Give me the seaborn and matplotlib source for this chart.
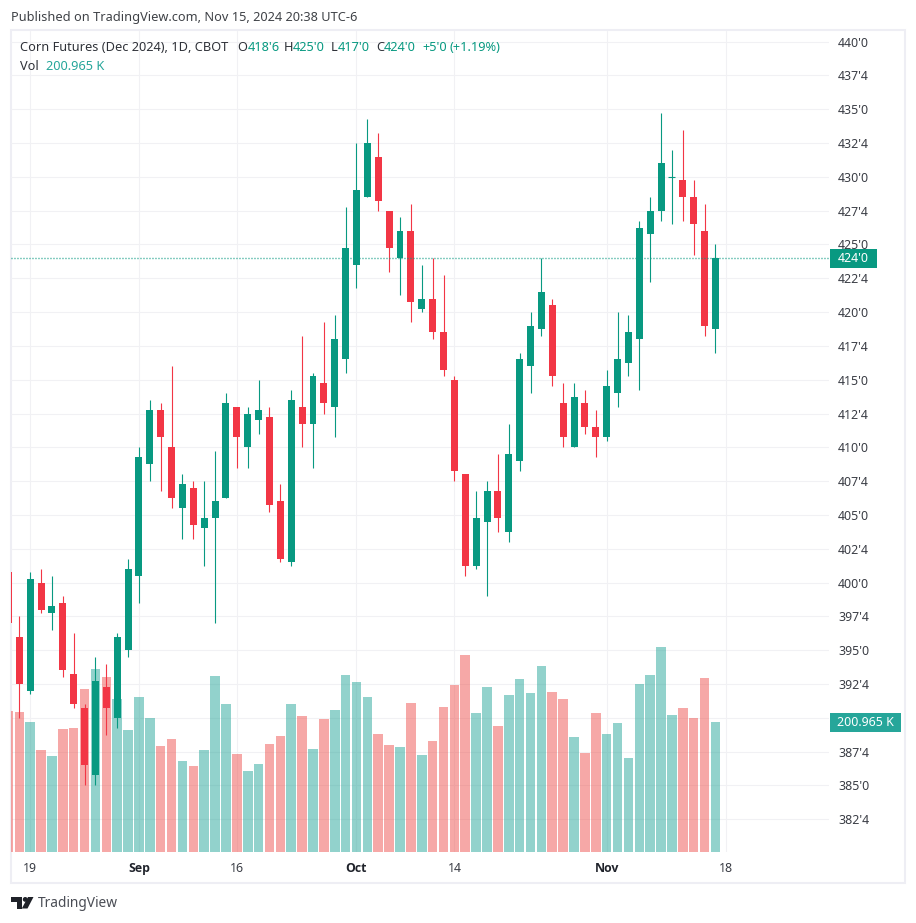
import matplotlib
matplotlib.use("Agg")
import matplotlib.pyplot as plt
from matplotlib.patches import Rectangle, Polygon, Circle
import numpy as np
import pandas as pd
import seaborn as sns

# ---- values (cents per bushel; volume in thousands) ----
session = list(range(-1, 65))
opens = [400.75, 396.0, 392.0, 400.0, 397.75, 398.5, 393.25, 390.75, 385.75, 392.25, 390.0,
         395.0, 400.5, 408.75, 412.75, 410.0, 405.5, 407.0, 404.0, 404.75, 406.25, 413.0,
         410.0, 412.0, 412.25, 406.0, 401.5, 413.0, 411.75, 414.75, 413.0, 416.5, 423.5,
         428.5, 431.5, 427.5, 424.0, 426.0, 420.25, 421.0, 418.5, 415.0, 408.0, 401.25,
         404.5, 406.75, 403.75, 409.0, 416.0, 418.75, 420.5, 413.25, 410.0, 413.25, 411.5,
         410.75, 414.0, 416.25, 418.0, 425.75, 427.5, 430.0, 429.75, 428.5, 426.0, 418.75]
highs = [400.75, 397.5, 400.75, 401.0, 400.5, 399.0, 396.25, 391.0, 394.5, 394.0, 396.25,
         401.75, 410.0, 413.5, 413.25, 416.0, 408.0, 407.5, 407.5, 409.75, 414.0, 413.0,
         413.0, 415.0, 413.0, 407.25, 414.25, 418.25, 415.5, 419.25, 419.75, 427.75, 432.5,
         434.25, 433.25, 427.5, 427.0, 428.0, 423.5, 424.0, 422.75, 415.25, 408.0, 406.75,
         407.5, 409.5, 411.75, 417.0, 420.0, 424.0, 421.0, 414.75, 414.75, 414.25, 412.75,
         415.75, 420.0, 419.75, 426.75, 428.5, 434.75, 432.0, 433.5, 429.75, 428.0, 425.0]
lows = [397.0, 390.0, 391.75, 397.75, 396.5, 393.0, 390.75, 385.0, 385.0, 388.75, 389.25,
        394.5, 398.5, 407.5, 406.75, 405.5, 403.25, 403.25, 401.25, 397.0, 406.25, 408.5,
        408.5, 411.0, 405.25, 401.5, 401.25, 410.0, 408.5, 412.5, 410.75, 415.5, 421.75,
        428.5, 427.5, 423.0, 421.25, 419.25, 420.0, 418.0, 415.25, 407.5, 400.5, 401.0,
        399.0, 403.75, 403.0, 408.25, 414.0, 418.25, 414.5, 410.0, 410.0, 411.0, 409.25,
        410.5, 413.0, 415.25, 414.25, 422.25, 426.75, 426.5, 426.75, 424.25, 418.25, 417.0]
closes = [397.0, 392.5, 400.25, 398.0, 398.25, 393.5, 391.0, 386.5, 392.75, 390.75, 396.0,
          401.0, 409.25, 412.75, 410.75, 406.25, 407.25, 404.25, 404.75, 406.0, 413.25, 410.75,
          412.5, 412.75, 405.75, 401.75, 413.5, 411.75, 415.25, 413.25, 418.0, 424.75, 429.0,
          432.5, 428.25, 424.75, 426.0, 420.75, 421.0, 418.5, 415.75, 408.25, 401.25, 404.75,
          406.75, 404.75, 409.5, 416.5, 419.0, 421.5, 415.25, 410.75, 413.75, 411.5, 410.75,
          414.5, 416.5, 418.5, 426.25, 427.5, 431.0, 430.0, 428.5, 426.5, 419.0, 424.0]
volume_k = [218, 216, 201, 158, 148, 190, 192, 252, 283, 271, 237,
            189, 240, 207, 164, 175, 141, 133, 158, 272, 229, 152,
            125, 136, 167, 179, 229, 210, 159, 206, 220, 274, 263,
            240, 182, 165, 162, 230, 150, 172, 224, 258, 305, 215,
            255, 195, 243, 267, 246, 288, 247, 237, 178, 153, 215,
            182, 199, 145, 260, 274, 317, 212, 223, 207, 269, 200.965]

price_ticks = [382.5, 385, 387.5, 390, 392.5, 395, 397.5, 400, 402.5, 405, 407.5, 410,
               412.5, 415, 417.5, 420, 422.5, 425, 427.5, 430, 432.5, 435, 437.5, 440]
# 390'0 sits behind the volume badge in the reference, so it shows no label
price_labels = ["382'4", "385'0", "387'4", "", "392'4", "395'0", "397'4", "400'0",
                "402'4", "405'0", "407'4", "410'0", "412'4", "415'0", "417'4", "420'0",
                "422'4", "425'0", "427'4", "430'0", "432'4", "435'0", "437'4", "440'0"]
date_ticks = [1, 11, 20, 31, 40, 54, 65]
date_labels = ["19", "Sep", "16", "Oct", "14", "Nov", "18"]
last_price = 424.0

# ---- styling ----
sns.set_theme(style="white")
plt.rcParams["font.family"] = ["Noto Sans", "DejaVu Sans"]
UP, DOWN = "#089981", "#F23645"
VOL_UP, VOL_DOWN = "#26A69A", "#EF5350"
GRID, BORDER, TXT = "#F1F1F4", "#EEEEF4", "#3A3D45"
W, H = 916, 923
L, R, T, B = 11, 829, 31, 852
XLIM = (-0.763, 74.44)
YLIM = (380.07, 440.79)
VOLMAX = 1269

df = pd.DataFrame({"session": session, "open": opens, "high": highs, "low": lows,
                   "close": closes, "volume": volume_k})
df["dir"] = np.where(df["close"] >= df["open"], "up", "down")

fig = plt.figure(figsize=(W / 100, H / 100), dpi=100, facecolor="white")
rect = [L / W, 1 - B / H, (R - L) / W, (B - T) / H]

ax_bg = fig.add_axes([0, 0, 1, 1], zorder=0)
ax_bg.set_xlim(0, W); ax_bg.set_ylim(H, 0); ax_bg.set_axis_off()
ax_bg.add_patch(Rectangle((11, 30), 894, 853, fill=False, ec=BORDER, lw=1.5))

# grid and axis labels
ax = fig.add_axes(rect, zorder=1)
ax.patch.set_visible(False)
ax.set_xlim(*XLIM); ax.set_ylim(*YLIM)
ax.yaxis.tick_right()
ax.set_yticks(price_ticks, price_labels)
ax.set_xticks(date_ticks, date_labels)
ax.tick_params(axis="y", length=0, pad=6.5, labelsize=8.9, labelcolor=TXT)
ax.tick_params(axis="x", length=0, pad=7.5, labelsize=8.9, labelcolor=TXT)
for lab in ax.get_xticklabels():
    if lab.get_text() in ("Sep", "Oct", "Nov"):
        lab.set_fontweight("bold"); lab.set_color("#20232B")
        lab.set_fontfamily(["Open Sans", "DejaVu Sans"])
ax.grid(True, color=GRID, lw=0.75)
ax.set_axisbelow(True)
for s in ax.spines.values():
    s.set_visible(False)

# volume
ax_vol = fig.add_axes(rect, zorder=2)
ax_vol.patch.set_visible(False)
sns.barplot(data=df, x="session", y="volume", hue="dir", hue_order=["up", "down"],
            palette={"up": VOL_UP, "down": VOL_DOWN}, native_scale=True, dodge=False,
            width=0.88, saturation=1, alpha=0.5, linewidth=0, errorbar=None, legend=False,
            ax=ax_vol)
ax_vol.set_xlim(*XLIM); ax_vol.set_ylim(0, VOLMAX)
ax_vol.set_axis_off()

# candles
ax_c = fig.add_axes(rect, zorder=3)
ax_c.patch.set_visible(False)
colors = [UP if d == "up" else DOWN for d in df["dir"]]
ax_c.vlines(df["session"], df["low"], df["high"], colors=colors, lw=0.8)
body = (df["close"] - df["open"]).abs()
ax_c.bar(df["session"], body, bottom=df[["open", "close"]].min(axis=1), width=0.64,
         color=colors, linewidth=0)
doji = df[body == 0]
ax_c.hlines(doji["close"], doji["session"] - 0.32, doji["session"] + 0.32, colors=UP, lw=0.8)
ax_c.axhline(last_price, color=UP, lw=1.0, linestyle=(0, (0.7, 1.46)))
ax_c.set_xlim(*XLIM); ax_c.set_ylim(*YLIM)
ax_c.set_axis_off()

# overlay in pixel coordinates: header, legend row, badges, logo
ov = fig.add_axes([0, 0, 1, 1], zorder=4)
ov.set_xlim(0, W); ov.set_ylim(H, 0); ov.set_axis_off(); ov.patch.set_visible(False)
FS = 9.2
def t(x, y, s, c=TXT, fs=FS, **kw):
    ov.text(x, y, s, color=c, fontsize=fs, va="center", ha=kw.pop("ha", "left"), **kw)

t(11, 17, "Published on TradingView.com, Nov 15, 2024 20:38 UTC-6", c="#3F4247")
t(20, 47.5, "Corn Futures (Dec 2024), 1D, CBOT", c="#2E3138")
TEAL = "#089981"
for x, s, c in [(237, "O", "#2E3138"), (248, "418'6", TEAL), (284, "H", "#2E3138"), (293, "425'0", TEAL),
                (331, "L", "#2E3138"), (338, "417'0", TEAL), (376, "C", "#2E3138"), (384, "424'0", TEAL),
                (422, "+5'0", TEAL), (449, "(+1.19%)", TEAL)]:
    t(x, 47.5, s, c=c)
t(20, 66, "Vol", c="#2E3138")
t(46, 66, "200.965 K", c="#26A69A")

ov.add_patch(Rectangle((830, 249), 47, 18.5, fc=UP, ec="none"))
t(853.5, 258.5, "424'0", c="white", ha="center", fontweight="medium", fs=8.9)
ov.add_patch(Rectangle((830, 713), 71, 19, fc=VOL_UP, ec="none"))
t(865.5, 722.5, "200.965 K", c="white", ha="center", fontweight="medium", fs=8.9)

# TradingView mark and name
LOGO = "#1F2229"
ov.add_patch(Polygon([(11, 897), (22, 897), (22, 908.5), (16.5, 908.5), (16.5, 902), (11, 902)], fc=LOGO, ec="none"))
ov.add_patch(Circle((25.2, 899.4), 2.4, fc=LOGO, ec="none"))
ov.add_patch(Polygon([(28, 897), (33.5, 897), (27.5, 908.5), (21.8, 908.5)], fc=LOGO, ec="none"))
t(38, 903.5, "TradingView", c="#4A4D55", fs=9.9)

fig.savefig("out.png", dpi=100, facecolor="white")
